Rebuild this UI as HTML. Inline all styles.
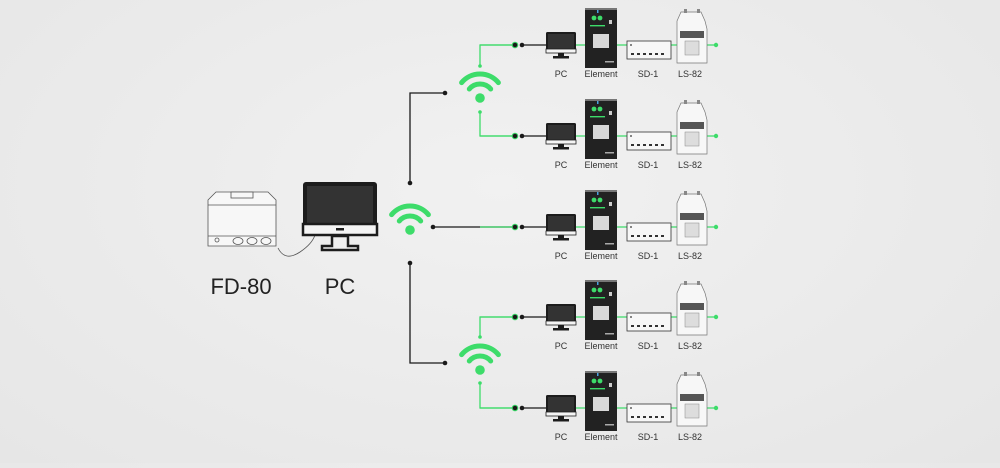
<!DOCTYPE html>
<html><head><meta charset="utf-8"><style>
html,body{margin:0;padding:0;}
body{width:1000px;height:463px;background:radial-gradient(ellipse at 50% 40%,#f1f1f1 0%,#e6e6e6 100%);overflow:hidden;font-family:"Liberation Sans",sans-serif;}
</style></head><body>
<svg width="1000" height="463" viewBox="0 0 1000 463" xmlns="http://www.w3.org/2000/svg">
<defs>
<g id="row">
  <line x1="480" y1="0" x2="515" y2="0" stroke="#3ddc6a" stroke-width="1.3"/>
  <circle cx="515" cy="0" r="2.8" fill="#1a1a1a" stroke="#3ddc6a" stroke-width="1"/>
  <circle cx="522" cy="0" r="2.3" fill="#1a1a1a"/>
  <line x1="522" y1="0" x2="546" y2="0" stroke="#1a1a1a" stroke-width="1.3"/>
  <line x1="576" y1="0" x2="716" y2="0" stroke="#3ddc6a" stroke-width="1.3"/>
  <circle cx="716" cy="0" r="2.2" fill="#3ddc6a"/>
  <rect x="546" y="-13" width="30" height="21" rx="1.5" fill="#1c1c1c"/>
  <rect x="548" y="-11" width="26" height="15" fill="#333"/>
  <rect x="546" y="4" width="30" height="4" fill="#f4f4f4" stroke="#1c1c1c" stroke-width="0.8"/>
  <rect x="558" y="8" width="6" height="4" fill="#1c1c1c"/>
  <rect x="553" y="11" width="16" height="2.5" fill="#1c1c1c"/>
  <rect x="585" y="-37" width="32" height="60" fill="#222"/>
  <rect x="585" y="-37" width="32" height="2" fill="#777"/>
  <circle cx="594" cy="-27" r="2.4" fill="#3ddc6a"/><circle cx="600" cy="-27" r="2.4" fill="#3ddc6a"/>
  <rect x="590" y="-20" width="15" height="1.4" fill="#3ddc6a"/>
  <rect x="597" y="-35" width="1.5" height="3" fill="#4aa3e0"/>
  <rect x="609" y="-25" width="3" height="4" fill="#ccc"/>
  <rect x="593" y="-11" width="16" height="14" fill="#d8d8d8"/>
  <rect x="605" y="16" width="9" height="1.5" fill="#aaa"/>
  <rect x="627" y="-4" width="44" height="18" fill="#f7f7f7" stroke="#333" stroke-width="0.8"/>
  <g fill="#333"><rect x="631" y="8" width="3" height="2"/><rect x="637" y="8" width="3" height="2"/><rect x="643" y="8" width="3" height="2"/><rect x="649" y="8" width="3" height="2"/><rect x="655" y="8" width="3" height="2"/><rect x="661" y="8" width="3" height="2"/><circle cx="631" cy="0" r="0.9"/></g>
  <path d="M677 -24 L681 -33 L701 -33 L705 -24 L707 -16 L707 18 L677 18 L677 -16 Z" fill="#f7f7f7" stroke="#777" stroke-width="0.7"/>
  <rect x="680" y="-14" width="24" height="7" fill="#555"/>
  <rect x="685" y="-4" width="14" height="14" fill="#ddd" stroke="#888" stroke-width="0.5"/>
  <rect x="684" y="-36" width="3" height="4" fill="#888"/><rect x="697" y="-36" width="3" height="4" fill="#888"/>
  <g font-size="9" fill="#333" text-anchor="middle">
    <text x="561" y="32">PC</text><text x="601" y="32">Element</text><text x="648" y="32">SD-1</text><text x="690" y="32">LS-82</text>
  </g>
</g>
<g id="wifi">
  <path d="M-18.4 -3.4 A24 24 0 0 1 18.4 -3.4" fill="none" stroke="#3ddc6a" stroke-width="5" stroke-linecap="round"/>
  <path d="M-10.7 3 A14 14 0 0 1 10.7 3" fill="none" stroke="#3ddc6a" stroke-width="5" stroke-linecap="round"/>
  <circle cx="0" cy="12" r="4.8" fill="#3ddc6a"/>
</g>
</defs>
<g stroke="#1a1a1a" stroke-width="1.3" fill="none">
  <polyline points="410,183 410,93 445,93"/>
  <polyline points="410,263 410,363 445,363"/>
  <line x1="433" y1="227" x2="515" y2="227"/>
</g>
<g fill="#1a1a1a"><circle cx="410" cy="183" r="2.3"/><circle cx="445" cy="93" r="2.3"/><circle cx="410" cy="263" r="2.3"/><circle cx="445" cy="363" r="2.3"/><circle cx="433" cy="227" r="2.3"/></g>
<g stroke="#3ddc6a" stroke-width="1.3" fill="none">
  <polyline points="480,66 480,45 515,45"/><polyline points="480,112 480,136 515,136"/>
  <polyline points="480,337 480,317 515,317"/><polyline points="480,383 480,408 515,408"/>
</g>
<g fill="#3ddc6a"><circle cx="480" cy="66" r="1.8"/><circle cx="480" cy="112" r="1.8"/><circle cx="480" cy="337" r="1.8"/><circle cx="480" cy="383" r="1.8"/></g>
<use href="#wifi" x="480" y="86"/>
<use href="#wifi" x="480" y="358"/>
<use href="#wifi" x="410" y="218"/>
<use href="#row" y="45"/><use href="#row" y="136"/><use href="#row" y="227"/><use href="#row" y="317"/><use href="#row" y="408"/>
<g stroke="#555" stroke-width="0.8" fill="#f7f7f7">
  <path d="M208 200 L216 192 L268 192 L276 200 L276 246 L208 246 Z"/>
  <rect x="231" y="192" width="22" height="6"/>
  <line x1="208" y1="205" x2="276" y2="205"/>
  <line x1="208" y1="236" x2="276" y2="236"/>
  <ellipse cx="238" cy="241" rx="5" ry="3.5"/><ellipse cx="252" cy="241" rx="5" ry="3.5"/><ellipse cx="266" cy="241" rx="5" ry="3.5"/>
  <circle cx="217" cy="240" r="2"/>
  <path d="M278 248 Q285 262 300 252 Q312 244 315 235" fill="none"/>
</g>
<rect x="303" y="182" width="74" height="53" rx="3" fill="#1c1c1c"/>
<rect x="307" y="186" width="66" height="37" fill="#333"/>
<rect x="303" y="224" width="74" height="11" fill="#f4f4f4" stroke="#1c1c1c" stroke-width="2.5"/>
<rect x="336" y="228" width="8" height="2.5" fill="#1c1c1c"/>
<path d="M332 236 L332 246 L322 246 L322 250 L358 250 L358 246 L348 246 L348 236 Z" fill="none" stroke="#1c1c1c" stroke-width="2.5"/>
<g font-size="22" fill="#222" text-anchor="middle"><text x="241" y="294">FD-80</text><text x="340" y="294">PC</text></g>
</svg>
</body></html>
